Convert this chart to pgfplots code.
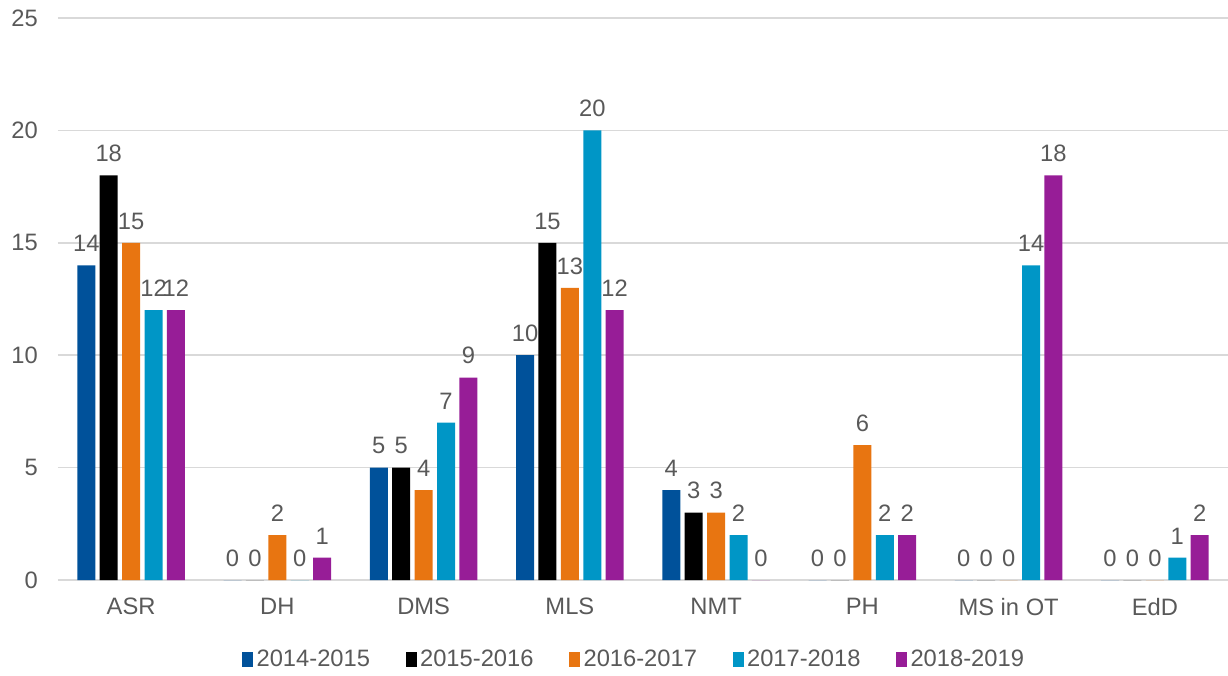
\documentclass[border=0pt]{standalone}
\usepackage{pgfplots}
\pgfplotsset{compat=1.18}
\usepackage{fontspec}
\setmainfont{Liberation Sans}

\definecolor{cA}{HTML}{00519A}
\definecolor{cB}{HTML}{000000}
\definecolor{cC}{HTML}{E87511}
\definecolor{cD}{HTML}{0096C6}
\definecolor{cE}{HTML}{971D97}
\definecolor{txt}{HTML}{595959}
\definecolor{gridc}{HTML}{D9D9D9}

\begin{document}
\begin{tikzpicture}
\begin{axis}[
  scale only axis,
  width=23.4cm,
  height=11.24cm,
  ybar=0.88mm,
  bar width=3.6mm,
  xmin=-0.5, xmax=7.5,
  ymin=0, ymax=25,
  ytick={0,5,...,25},
  xtick={0,...,7},
  xticklabels={ASR, DH, DMS, MLS, NMT, PH, MS in OT, EdD},
  axis line style={draw=none},
  major tick length=0pt,
  ymajorgrids,
  major grid style={gridc, line width=0.9pt},
  tick label style={font=\fontsize{13.5}{16}\selectfont, text=txt},
  /pgf/number format/assume math mode=true,
  yticklabel style={xshift=-2.8mm},
  xticklabel style={yshift=-2.4mm},
  nodes near coords,
  every node near coord/.append style={font=\fontsize{13.5}{16}\selectfont, text=txt, inner sep=1.5pt, yshift=2.1mm},
  legend columns=5,
  legend style={
    at={(0.493,-0.142)}, anchor=center,
    draw=none, fill=none,
    font=\fontsize{13.5}{16}\selectfont, text=txt,
    /tikz/every even column/.append style={column sep=6.4mm},
  },
  legend image code/.code={\fill[#1] (0mm,-1.4mm) rectangle (2.2mm,1.6mm);},
]
\addplot[fill=cA, draw=none] coordinates {(0,14) (1,0) (2,5) (3,10) (4,4) (5,0) (6,0) (7,0)};
\addlegendentry{2014-2015}
\addplot[fill=cB, draw=none] coordinates {(0,18) (1,0) (2,5) (3,15) (4,3) (5,0) (6,0) (7,0)};
\addlegendentry{2015-2016}
\addplot[fill=cC, draw=none] coordinates {(0,15) (1,2) (2,4) (3,13) (4,3) (5,6) (6,0) (7,0)};
\addlegendentry{2016-2017}
\addplot[fill=cD, draw=none] coordinates {(0,12) (1,0) (2,7) (3,20) (4,2) (5,2) (6,14) (7,1)};
\addlegendentry{2017-2018}
\addplot[fill=cE, draw=none] coordinates {(0,12) (1,1) (2,9) (3,12) (4,0) (5,2) (6,18) (7,2)};
\addlegendentry{2018-2019}
\end{axis}
\pgfresetboundingbox
\path ([xshift=-11.6mm,yshift=-19mm]current axis.south west) rectangle ([yshift=3.6mm]current axis.north east);
\end{tikzpicture}
\end{document}
